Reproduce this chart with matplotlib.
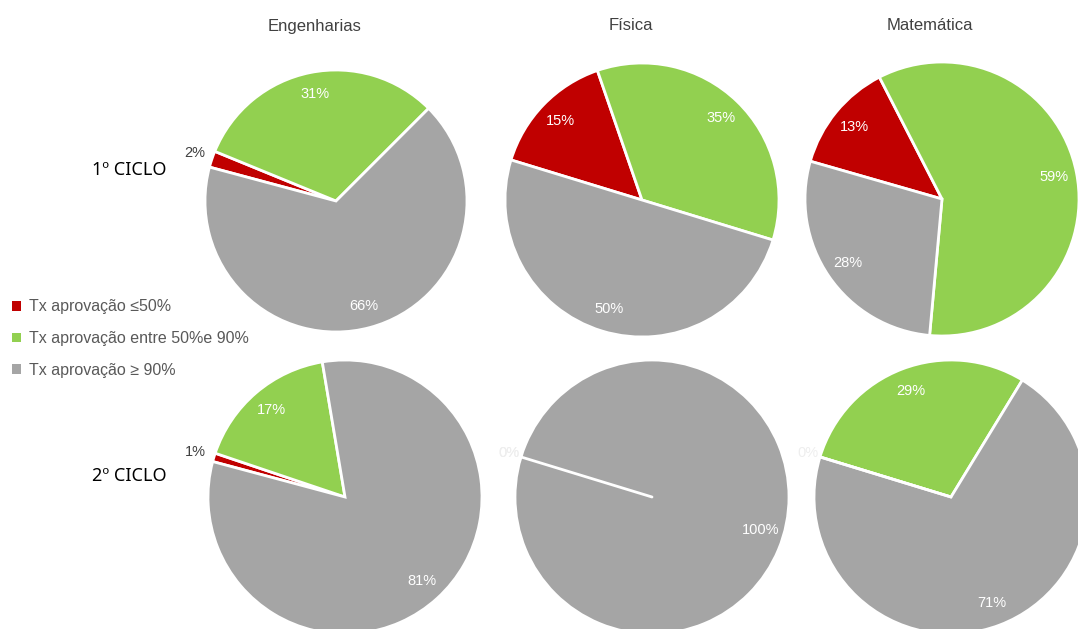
import numpy as np
import matplotlib
matplotlib.use('Agg')
import matplotlib.pyplot as plt
from matplotlib.patches import Patch

plt.rcParams['font.family'] = ['Liberation Sans', 'DejaVu Sans']

W, H = 1078, 629

courses = ['Engenharias', 'Física', 'Matemática']
cycles = ['1º CICLO', '2º CICLO']
series = ['Tx aprovação ≤50%', 'Tx aprovação entre 50%e 90%', 'Tx aprovação ≥ 90%']
colors = ['#C00000', '#92D050', '#A5A5A5']

# shares (%) per cycle, per course: [<=50, 50-90, >=90]
ciclo1 = [[2, 31, 66], [15, 35, 50], [13, 59, 28]]
ciclo2 = [[1, 17, 81], [0, 0, 100], [0, 29, 71]]
start1 = [165, 163, 164]
start2 = [165, 163, 163]

# pie placement in pixels: (cx, cy, r)
pos1 = [(336, 201, 131), (642, 200, 137), (942, 199, 137)]
pos2 = [(345, 497, 137), (652, 497, 137), (951, 497, 137)]


def draw_pie(fig, vals, start, cx, cy, r):
    ax = fig.add_axes([(cx - r) / W, 1 - (cy + r) / H, 2 * r / W, 2 * r / H])
    wedges, _ = ax.pie(vals, colors=colors, startangle=start, counterclock=False,
                       radius=1, wedgeprops=dict(edgecolor='white', linewidth=2))
    ax.set_xlim(-1, 1)
    ax.set_ylim(-1, 1)
    ax.axis('off')
    for w in wedges:
        w.set_clip_on(False)
    # zero slices still leave their edge line, as in the original
    if vals[0] == 0:
        a = np.deg2rad(start)
        ax.plot([0, np.cos(a)], [0, np.sin(a)], color='white', lw=2, zorder=5,
                clip_on=False, solid_capstyle='round')
    for w, v in zip(wedges, vals):
        ang = np.deg2rad((w.theta1 + w.theta2) / 2)
        if v == 0:
            d, c = 1.09, '#eeeeee'
        elif v < 5:
            d, c = 1.14, '#404040'
        else:
            d, c = 0.83, 'white'
        ax.text(d * np.cos(ang), d * np.sin(ang), '%d%%' % v, ha='center', va='center',
                color=c, fontsize=10.5, clip_on=False, zorder=6)
    return wedges


fig = plt.figure(figsize=(W / 100, H / 100), dpi=100)

for k in range(3):
    draw_pie(fig, ciclo1[k], start1[k], *pos1[k])
    draw_pie(fig, ciclo2[k], start2[k], *pos2[k])

title_x = [315, 631, 930]
for k, name in enumerate(courses):
    fig.text(title_x[k] / W, 1 - 26 / H, name, ha='center', va='center',
             fontsize=12, color='#404040')

fig.text(92 / W, 1 - 170 / H, cycles[0], ha='left', va='center', fontsize=13,
         color='black', family=['Noto Sans', 'DejaVu Sans'])
fig.text(92 / W, 1 - 476 / H, cycles[1], ha='left', va='center', fontsize=13,
         color='black', family=['Noto Sans', 'DejaVu Sans'])

handles = [Patch(facecolor=c, edgecolor='none') for c in colors]
leg = fig.legend(handles, series, loc='upper left', bbox_to_anchor=(6 / W, 1 - 293 / H),
                 frameon=False, fontsize=11.5, handlelength=0.55, handleheight=0.55,
                 handletextpad=0.5, labelspacing=1.05, borderaxespad=0)
for t in leg.get_texts():
    t.set_color('#595959')

fig.savefig('out.png', dpi=100)
